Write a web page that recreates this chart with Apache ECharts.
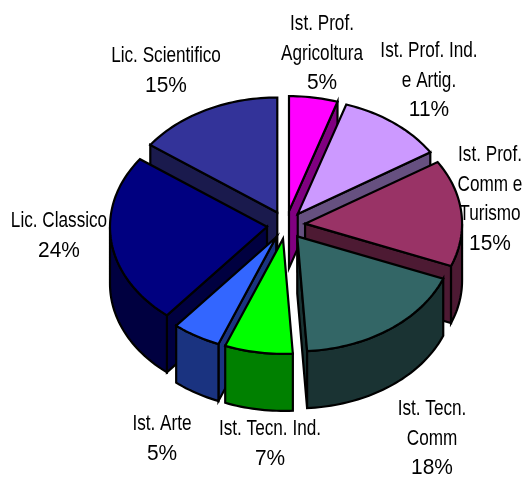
<!DOCTYPE html>
<html><head><meta charset="utf-8">
<style>html,body{margin:0;padding:0;background:#fff}#c{width:529px;height:478px}</style>
<script src="https://cdn.jsdelivr.net/npm/echarts@6/dist/echarts.min.js"></script>
</head><body><div id="c"></div>
<script>
// clockwise from 12 o'clock
const categories = ['Ist. Prof.\nAgricoltura','Ist. Prof. Ind.\ne Artig.','Ist. Prof.\nComm e\nTurismo','Ist. Tecn.\nComm','Ist. Tecn. Ind.','Ist. Arte','Lic. Classico','Lic. Scientifico'];
const shares = [5,11,15,18,7,5,24,15];
const topColors = ['#FF00FF','#CC99FF','#993366','#336666','#00FF00','#3366FF','#000080','#333399'];
const sideColors = ['#800080','#665080','#4D1A33','#1A3333','#008000','#1A3380','#000040','#1A1A4D'];
// label anchor: centre x, y of the first line centre
const labelX = [322,429,490,432,270,162,59,166];
const labelY = [24,51,155,409,429,424,221,56];

const C = {cx:286, cy:225, rx:157, ry:115, depth:57, explode:0.122};
const LH = 29.5;
const total = shares.reduce((a,b)=>a+b,0);
let acc = 0;
const rows = shares.map((v,i)=>{
  const a = acc/total*360; acc += v; const b = acc/total*360;
  return {i, v, a, b, mid:(a+b)/2};
});
const rad = d=>d*Math.PI/180;
// painter's order: farthest first
const order = rows.slice().sort((p,q)=>Math.cos(rad(q.mid))-Math.cos(rad(p.mid)));

function pt(o,deg,dy){return [o[0]+C.rx*Math.sin(rad(deg)), o[1]-C.ry*Math.cos(rad(deg))+(dy||0)];}
function arc(o,a,b,dy){const n=Math.max(2,Math.ceil(Math.abs(b-a)/1.5));const r=[];for(let k=0;k<=n;k++)r.push(pt(o,a+(b-a)*k/n,dy));return r;}
const stroke={stroke:'#000',lineWidth:2.2,lineJoin:'miter',miterLimit:6};

function renderItem(params,api){
  const r = order[params.dataIndex];
  const i = r.i;
  const o = [C.cx+C.explode*C.rx*Math.sin(rad(r.mid)), C.cy-C.explode*C.ry*Math.cos(rad(r.mid))];
  const side = sideColors[i], children=[];
  const poly = (pts,fill)=>children.push({type:'polygon',shape:{points:pts},style:Object.assign({fill},stroke)});
  if(Math.sin(rad(r.a))<-1e-6){const e=pt(o,r.a);poly([o,e,[e[0],e[1]+C.depth],[o[0],o[1]+C.depth]],side);}
  if(Math.sin(rad(r.b))>1e-6){const e=pt(o,r.b);poly([o,e,[e[0],e[1]+C.depth],[o[0],o[1]+C.depth]],side);}
  const wa=Math.max(r.a,90), wb=Math.min(r.b,270);
  if(wb>wa){poly(arc(o,wa,wb,0).concat(arc(o,wb,wa,C.depth)),side);}
  poly([o].concat(arc(o,r.a,r.b,0)),topColors[i]);
  return {type:'group',children};
}
const labels = [];
rows.forEach(r=>{
  const lines = categories[r.i].split('\n').length;
  labels.push({type:'text', x:labelX[r.i], y:labelY[r.i]-LH/2, z:10, scaleX:0.78,
    style:{text:categories[r.i],x:0,y:0,align:'center',verticalAlign:'top',
      font:'22px "Liberation Sans",sans-serif',lineHeight:LH,fill:'#000'}});
  labels.push({type:'text', x:labelX[r.i], y:labelY[r.i]+lines*LH-LH/2, z:10, scaleX:0.95,
    style:{text:r.v+'%',x:0,y:0,align:'center',verticalAlign:'top',
      font:'22px "Liberation Sans",sans-serif',lineHeight:LH,fill:'#000'}});
});
const chart = echarts.init(document.getElementById('c'),null,{renderer:'canvas'});
chart.setOption({
  animation:false,
  backgroundColor:'#fff',
  series:[{type:'custom',coordinateSystem:'none',renderItem,
    data:order.map(r=>({name:categories[r.i],value:[r.v]}))}],
  graphic:{elements:labels}
});
</script></body></html>
